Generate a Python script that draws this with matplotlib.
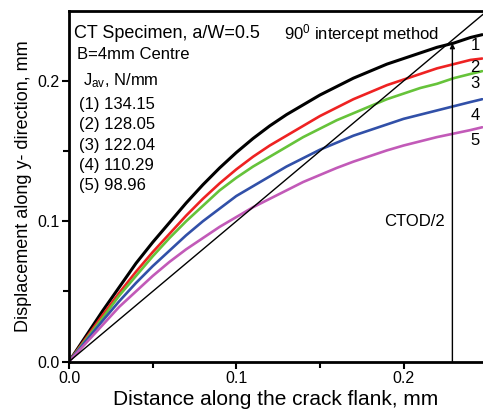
import numpy as np
import matplotlib
matplotlib.use("Agg")
import matplotlib.pyplot as plt

plt.rcParams['font.family'] = ['Liberation Sans', 'DejaVu Sans']
plt.rcParams['mathtext.fontset'] = 'custom'
plt.rcParams['mathtext.rm'] = 'Liberation Sans'
plt.rcParams['mathtext.it'] = 'Liberation Sans'

#### data --------------------------------------------------------------

# distance along the crack flank (mm)
x = [0.0, 0.01, 0.02, 0.03, 0.04, 0.05, 0.06, 0.07, 0.08, 0.09, 0.10, 0.11, 0.12,
     0.13, 0.14, 0.15, 0.16, 0.17, 0.18, 0.19, 0.20, 0.21, 0.22, 0.23, 0.24, 0.247]

# displacement along y (mm), one series per J level
y1 = [0.0, 0.018, 0.036, 0.053, 0.070, 0.085, 0.099, 0.113, 0.126, 0.138, 0.149, 0.159, 0.168,
      0.176, 0.183, 0.190, 0.196, 0.202, 0.207, 0.212, 0.216, 0.220, 0.224, 0.227, 0.231, 0.233]
y2 = [0.0, 0.0165, 0.033, 0.049, 0.064, 0.078, 0.091, 0.104, 0.116, 0.127, 0.137, 0.146, 0.154,
      0.161, 0.168, 0.175, 0.181, 0.187, 0.192, 0.197, 0.201, 0.205, 0.209, 0.212, 0.215, 0.216]
y3 = [0.0, 0.0155, 0.031, 0.047, 0.061, 0.075, 0.088, 0.100, 0.111, 0.122, 0.131, 0.139, 0.146,
      0.153, 0.160, 0.166, 0.172, 0.177, 0.182, 0.187, 0.191, 0.195, 0.198, 0.202, 0.205, 0.207]
y4 = [0.0, 0.0145, 0.029, 0.043, 0.056, 0.068, 0.079, 0.090, 0.100, 0.109, 0.118, 0.125, 0.132,
      0.139, 0.145, 0.151, 0.156, 0.161, 0.165, 0.169, 0.173, 0.176, 0.179, 0.182, 0.185, 0.187]
y5 = [0.0, 0.013, 0.026, 0.039, 0.050, 0.061, 0.071, 0.080, 0.088, 0.096, 0.103, 0.110, 0.116,
      0.122, 0.128, 0.133, 0.138, 0.1425, 0.1465, 0.1505, 0.154, 0.157, 0.160, 0.1625, 0.165, 0.167]

curve_ids = ['1', '2', '3', '4', '5']
j_av = ['134.15', '128.05', '122.04', '110.29', '98.96']

# 90 degree intercept line and CTOD/2 point
line_x = [0.0, 0.26]
line_y = [0.0, 0.26]
ctod_x = 0.2292
ctod_y = 0.2269

#### plot --------------------------------------------------------------

fig = plt.figure(figsize=(4.83, 4.17), dpi=100)
ax = fig.add_axes([0.143, 0.133, 0.857, 0.841])

colors = ['black', '#ee2222', '#66c33a', '#3150a8', '#c25ab8']
widths = [2.2, 1.9, 1.9, 1.9, 1.9]
for ys, c, lw in zip([y1, y2, y3, y4, y5], colors, widths):
    ax.plot(x, ys, color=c, lw=lw, solid_capstyle='round', solid_joinstyle='round')

ax.plot(line_x, line_y, color='black', lw=1.0)
ax.annotate('', xy=(ctod_x, ctod_y), xytext=(ctod_x, 0.0),
            arrowprops=dict(arrowstyle='-|>', color='black', lw=1.0,
                            mutation_scale=7, shrinkA=0, shrinkB=0))

ax.set_xlim(0, 0.2475)
ax.set_ylim(0, 0.25)
ax.set_xticks([0.0, 0.1, 0.2])
ax.set_yticks([0.0, 0.1, 0.2])
ax.set_xticks([0.05, 0.15], minor=True)
ax.set_yticks([0.05, 0.15], minor=True)
ax.xaxis.set_major_formatter(matplotlib.ticker.FormatStrFormatter('%.1f'))
ax.yaxis.set_major_formatter(matplotlib.ticker.FormatStrFormatter('%.1f'))
ax.tick_params(which='major', direction='out', length=5, width=1.5, labelsize=11.5, pad=2)
ax.tick_params(which='minor', direction='out', length=4, width=1.5)

for side in ['left', 'bottom', 'top']:
    ax.spines[side].set_linewidth(2.0)
ax.spines['right'].set_visible(False)

ax.set_xlabel('Distance along the crack flank, mm', fontsize=15, labelpad=3)
ax.set_ylabel('Displacement along y- direction, mm', fontsize=13, labelpad=4)

# annotations
tr = ax.transAxes
ax.text(0.013, 0.935, 'CT Specimen, a/W=0.5', fontsize=13, transform=tr, va='center')
ax.text(0.019, 0.875, 'B=4mm Centre', fontsize=12, transform=tr, va='center')
ax.text(0.033, 0.800, r'J$_{\mathrm{av}}$, N/mm', fontsize=12, transform=tr, va='center')
for i, (cid, j) in enumerate(zip(curve_ids, j_av)):
    ax.text(0.025, 0.733 - i * 0.058, f'({cid}) {j}', fontsize=12,
            transform=tr, va='center')

ax.text(0.52, 0.935, r'90$^{\mathrm{0}}$ intercept method', fontsize=12,
        transform=tr, va='center')
ax.text(0.2245, 0.1, 'CTOD/2', fontsize=12, va='center', ha='right')

# curve numbers at the right edge
label_y = [0.225, 0.2096, 0.198, 0.1754, 0.1577]
for cid, ly in zip(curve_ids, label_y):
    ax.text(0.2427, ly, cid, fontsize=12, va='center', ha='center')

fig.savefig('out.png', dpi=100)
